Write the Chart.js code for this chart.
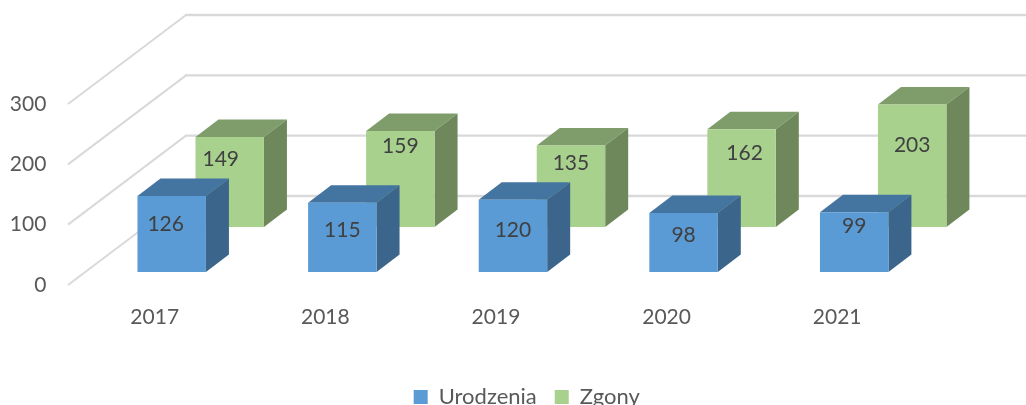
<!DOCTYPE html>
<html><head><meta charset="utf-8">
<style>html,body{margin:0;padding:0;background:#fff;overflow:hidden}#w{width:1026px;height:405px;position:relative}</style>
<script src="https://cdn.jsdelivr.net/npm/chart.js@4/dist/chart.umd.min.js"></script>
</head><body><div id="w"><canvas id="c" width="1026" height="405"></canvas></div>
<script>
const categories = ['2017','2018','2019','2020','2021'];
const urodzenia = [126,115,120,98,99];
const zgony = [149,159,135,162,203];
const yTicks = [0,100,200,300];

const FONT = 'Lato, sans-serif';
const FS = 21;
const DEPTH = {x:23, y:-17.5};
const WALL = {x:118, y:-89};
const faces = [
  {top:'#4474a0', side:'#3b658a'},
  {top:'#7f9d6b', side:'#6e885c'}
];
// manual label placement of the source chart, relative to bar centre
const labelNudge = [
  [[-6,-10],[0,-7],[0,-6],[0,-7],[0,-16]],
  [[-9,-23],[0,-33],[0,-23],[3,-25],[0,-21]]
];

const wall = {
  id:'wall',
  beforeDatasetsDraw(chart){
    const {ctx, scales:{y}} = chart;
    const x0 = 68, x1 = x0 + WALL.x;
    ctx.save();
    ctx.strokeStyle = '#d9d9d9';
    yTicks.forEach(t=>{
      const p = y.getPixelForValue(t);
      ctx.lineWidth = 2;
      ctx.beginPath(); ctx.moveTo(x0,p); ctx.lineTo(x1,p+WALL.y); ctx.stroke();
      ctx.lineWidth = 2.4;
      ctx.beginPath(); ctx.moveTo(x1-1,p+WALL.y); ctx.lineTo(chart.width,p+WALL.y); ctx.stroke();
    });
    ctx.restore();
  }
};
const box3d = {
  id:'box3d',
  beforeDatasetDraw(chart,args){
    const {ctx} = chart, f = faces[args.index];
    chart.getDatasetMeta(args.index).data.forEach(b=>{
      const l=b.x-b.width/2, r=b.x+b.width/2, t=b.y, u=b.base;
      ctx.fillStyle=f.top;
      ctx.beginPath(); ctx.moveTo(l,t); ctx.lineTo(l+DEPTH.x,t+DEPTH.y); ctx.lineTo(r+DEPTH.x,t+DEPTH.y); ctx.lineTo(r,t); ctx.closePath(); ctx.fill();
      ctx.fillStyle=f.side;
      ctx.beginPath(); ctx.moveTo(r,t); ctx.lineTo(r+DEPTH.x,t+DEPTH.y); ctx.lineTo(r+DEPTH.x,u+DEPTH.y); ctx.lineTo(r,u); ctx.closePath(); ctx.fill();
    });
  },
  afterDatasetsDraw(chart){
    const {ctx} = chart;
    ctx.save();
    ctx.font = FS+'px '+FONT;
    ctx.fillStyle='#404040';
    ctx.textAlign='center'; ctx.textBaseline='middle';
    [1,0].forEach(i=>{
      const ds = chart.data.datasets[i];
      chart.getDatasetMeta(i).data.forEach((b,j)=>{
        const n = labelNudge[i][j];
        ctx.fillText(String(ds.data[j]), b.x+n[0], (b.y+b.base)/2+n[1]);
      });
    });
    ctx.restore();
  },
  afterLayout(chart){
    const lg = chart.legend;
    lg.top = 405-37;
    lg.left += 42.5; lg.right += 42.5;
  }
};

new Chart(document.getElementById('c'),{
  type:'bar',
  data:{labels:categories,datasets:[
    {label:'Urodzenia',data:urodzenia,backgroundColor:'#5b9bd5',yAxisID:'yBlue',clip:false},
    {label:'Zgony',data:zgony,backgroundColor:'#a9d18e',yAxisID:'yGreen',clip:false}
  ]},
  options:{
    responsive:false,animation:false,
    categoryPercentage:0.68,barPercentage:1.18,
    layout:{padding:{top:104,right:57.5,left:0,bottom:0}},
    plugins:{
      tooltip:{enabled:false},
      legend:{position:'bottom',labels:{boxWidth:14,boxHeight:14,padding:18,color:'#595959',font:{family:FONT,size:22}}}
    },
    scales:{
      x:{grid:{display:false,drawTicks:false},border:{display:false},
        afterFit(s){s.height=70;},
        ticks:{labelOffset:-46,padding:20,autoSkip:false,maxRotation:0,color:'#595959',font:{family:FONT,size:FS}}},
      y:{position:'left',min:0,max:300,grid:{display:false,drawTicks:false},border:{display:false},
        afterFit(s){s.width=115.4;},
        afterBuildTicks(s){s.ticks=yTicks.map(v=>({value:v}));},
        ticks:{padding:69,color:'#595959',font:{family:FONT,size:FS}}},
      yBlue:{display:false,min:-21.5,max:278.5},
      yGreen:{display:false,min:-96.1,max:203.9}
    }
  },
  plugins:[wall,box3d]
});
</script></body></html>
